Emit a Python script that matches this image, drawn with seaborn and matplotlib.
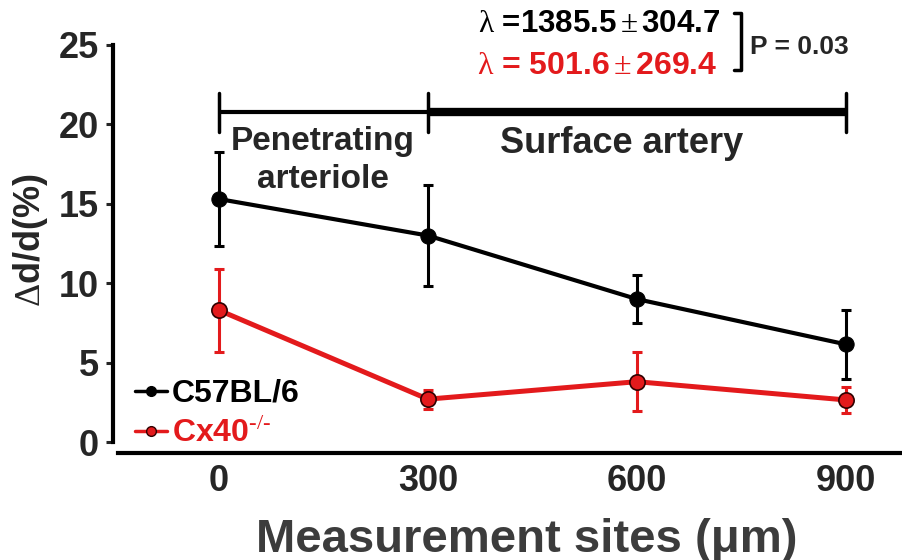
import numpy as np
import pandas as pd
import matplotlib
matplotlib.use("Agg")
import matplotlib.pyplot as plt
import seaborn as sns
from matplotlib.lines import Line2D

# ---- data ----
sites = [0, 300, 600, 900]
wt_mean = [15.3, 13.0, 9.0, 6.15]
wt_err = [2.95, 3.2, 1.5, 2.15]
ko_mean = [8.3, 2.7, 3.8, 2.65]
ko_err = [2.6, 0.6, 1.85, 0.8]
groups = ["C57BL/6", "Cx40-/-"]
xticks = [0, 300, 600, 900]
yticks = [0, 5, 10, 15, 20, 25]

RED = "#e31a1c"
BLACK = "#000000"

sns.set_theme(style="white")
plt.rcParams["font.family"] = ["Liberation Sans", "DejaVu Sans"]
plt.rcParams["mathtext.fontset"] = "custom"
plt.rcParams["mathtext.rm"] = "Liberation Serif"
plt.rcParams["mathtext.it"] = "Liberation Sans:italic"
plt.rcParams["mathtext.bf"] = "Liberation Sans:bold"

df = pd.DataFrame({
    "site": sites * 2,
    "value": wt_mean + ko_mean,
    "err": wt_err + ko_err,
    "group": [groups[0]] * 4 + [groups[1]] * 4,
})

fig = plt.figure(figsize=(9.03, 5.6), dpi=100)
ax = fig.add_axes([113 / 903, 107 / 560, 790 / 903, 453 / 560])

# error bars
for g, col in [(groups[0], BLACK), (groups[1], RED)]:
    d = df[df.group == g]
    ax.errorbar(d.site, d.value, yerr=d.err, fmt="none", ecolor=col,
                elinewidth=2.2, capsize=3.5, capthick=2.2, zorder=2)

sns.lineplot(data=df[df.group == groups[0]], x="site", y="value", ax=ax,
             color=BLACK, linewidth=3.0, marker="o", markersize=11,
             markerfacecolor=BLACK, markeredgecolor=BLACK, legend=False, zorder=4)
sns.lineplot(data=df[df.group == groups[1]], x="site", y="value", ax=ax,
             color=RED, linewidth=3.6, marker="o", markersize=11,
             markerfacecolor=RED, markeredgecolor="#300000", markeredgewidth=1.2,
             legend=False, zorder=3)

ax.set_xlim(-152, 982)
ax.set_ylim(-0.69, 27.83)
ax.set_xticks(xticks)
ax.set_xticklabels([str(v) for v in xticks], fontsize=26, fontweight="bold")
ax.set_yticks(yticks)
ax.set_yticklabels([str(v) for v in yticks], fontsize=26, fontweight="bold")
ax.tick_params(axis="y", direction="out", length=5, width=2.2, pad=5, left=True)
ax.tick_params(axis="x", length=0, pad=8)

for s in ["top", "right"]:
    ax.spines[s].set_visible(False)
ax.spines["left"].set_linewidth(3.0)
ax.spines["left"].set_bounds(0, 25)
ax.spines["bottom"].set_linewidth(3.0)
ax.spines["bottom"].set_bounds(-145, 982)
ax.spines["left"].set_color("black")
ax.spines["bottom"].set_color("black")

ax.set_ylabel(r"$\mathrm{\Delta}$d/d(%)", fontsize=26, fontweight="bold")
ax.yaxis.set_label_coords(-0.08, 0.47)
ax.set_xlabel("Measurement sites (μm)", fontsize=34, fontweight="bold",
              color="#3c3c3c")
ax.xaxis.set_label_coords(0.524, -0.143)

# region brackets
yb = 20.8
ax.plot([0, 300], [yb, yb], color="black", lw=3.0, solid_capstyle="butt", clip_on=False)
ax.plot([300, 900], [yb, yb], color="black", lw=6.0, solid_capstyle="butt", clip_on=False)
for xv in [0, 300, 900]:
    ax.plot([xv, xv], [19.5, 22.0], color="black", lw=2.5, clip_on=False)

ax.text(149, 18.9, "Penetrating", ha="center", va="center", fontsize=24, fontweight="bold")
ax.text(149, 16.5, "arteriole", ha="center", va="center", fontsize=24, fontweight="bold")
ax.text(578, 18.8, "Surface artery", ha="center", va="center", fontsize=26, fontweight="bold")

ax.text(372, 26.35, r"$\mathrm{\lambda}$ =1385.5$\,\mathrm{\pm}\,$304.7", ha="left", va="center",
        fontsize=22.5, fontweight="bold", color="black")
ax.text(370, 23.7, r"$\mathrm{\lambda}$ = 501.6$\,\mathrm{\pm}\,$269.4", ha="left", va="center",
        fontsize=23, fontweight="bold", color=RED)
ax.plot([740, 749, 749, 740], [27.0, 27.0, 23.4, 23.4], color="black", lw=2.5,
        clip_on=False)
ax.text(762, 24.85, "P = 0.03", ha="left", va="center", fontsize=19, fontweight="bold")

handles = [
    Line2D([], [], color=BLACK, lw=2.5, marker="o", markersize=7,
           markerfacecolor=BLACK, markeredgecolor=BLACK),
    Line2D([], [], color=RED, lw=2.5, marker="o", markersize=7,
           markerfacecolor=RED, markeredgecolor="#300000"),
]
leg = ax.legend(handles, ["C57BL/6", "Cx40$^{\\mathit{\u2010/\u2010}}$"], loc="lower left",
                bbox_to_anchor=(0.02, -0.005), frameon=False, handlelength=1.0,
                handletextpad=0.15, labelspacing=0.3, borderaxespad=0.0,
                borderpad=0.2, prop={"size": 23, "weight": "bold"})
for t, c in zip(leg.get_texts(), [BLACK, RED]):
    t.set_color(c)

fig.savefig("out.png", dpi=100)
